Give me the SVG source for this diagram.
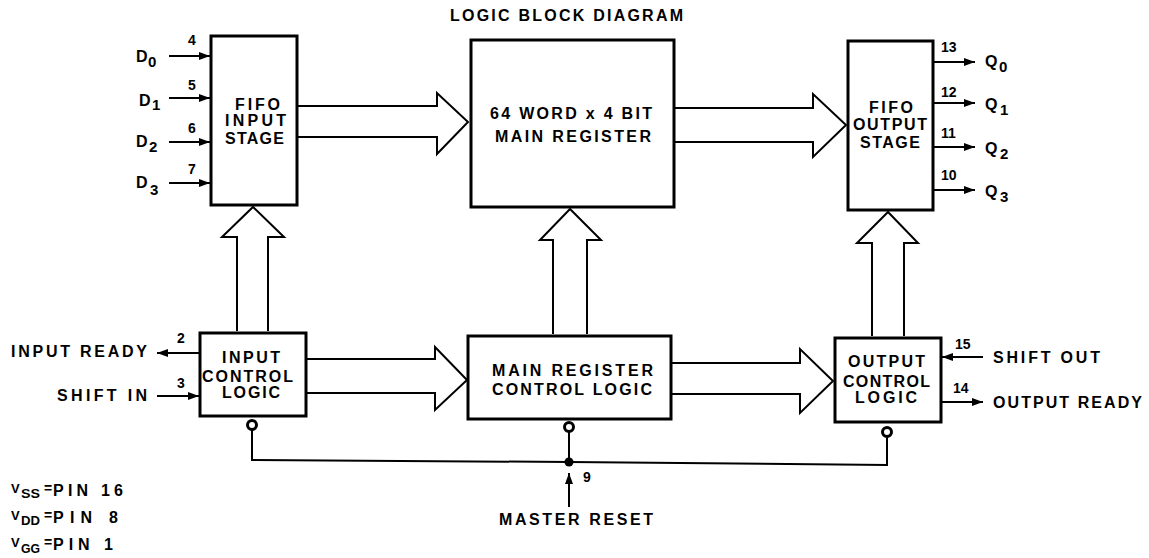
<svg xmlns="http://www.w3.org/2000/svg" width="1149" height="558" viewBox="0 0 1149 558">
<style>
.box{fill:#fff;stroke:#000;stroke-width:3}
.bus{fill:#fff;stroke:#000;stroke-width:2;stroke-linejoin:miter}
.pin{stroke:#000;stroke-width:2;fill:none}
.bub{fill:#fff;stroke:#000;stroke-width:3}
text{font-family:"Liberation Sans",Arial,sans-serif;font-weight:bold;fill:#000}
.lb{font-size:16px}
.sm{font-size:14px}
.sub{font-size:15px}
.vs{font-size:13px}
.vsub{font-size:13px}
</style>
<defs>
<marker id="ah" markerUnits="userSpaceOnUse" markerWidth="11" markerHeight="8" refX="11" refY="4" orient="auto">
<path d="M0,0 L11,4 L0,8 z" fill="#000"/>
</marker>
</defs>
<rect width="1149" height="558" fill="#fff"/>
<text class="lb" x="450" y="21" textLength="233" lengthAdjust="spacing" font-size="15">LOGIC BLOCK DIAGRAM</text>

<g id="connectors">
<path class="bus" d="M297,106 H437 V93 L468,122 L437,154 V137 H297"/>
<path class="bus" d="M674,108 H813 V94 L846,125 L813,157 V142 H674"/>
<path class="bus" d="M306,359 H435 V347 L467,380 L435,410 V393 H306"/>
<path class="bus" d="M671,363 H800 V349 L833,381 L800,413 V394 H671"/>
<path class="bus" d="M237,331 V237 H222 L253,207 L284,237 H268 V331"/>
<path class="bus" d="M553,334 V240 H540 L570,209 L601,240 H587 V334"/>
<path class="bus" d="M872,336 V243 H857 L888,212 L918,243 H904 V336"/>
<line class="pin" x1="169" y1="56" x2="210" y2="56" marker-end="url(#ah)"/>
<line class="pin" x1="169" y1="98" x2="210" y2="98" marker-end="url(#ah)"/>
<line class="pin" x1="169" y1="142" x2="210" y2="142" marker-end="url(#ah)"/>
<line class="pin" x1="169" y1="183" x2="210" y2="183" marker-end="url(#ah)"/>
<line class="pin" x1="934" y1="62" x2="975" y2="62" marker-end="url(#ah)"/>
<line class="pin" x1="934" y1="103" x2="975" y2="103" marker-end="url(#ah)"/>
<line class="pin" x1="934" y1="147" x2="975" y2="147" marker-end="url(#ah)"/>
<line class="pin" x1="934" y1="190" x2="975" y2="190" marker-end="url(#ah)"/>
<line class="pin" x1="199" y1="353" x2="157" y2="353" marker-end="url(#ah)"/>
<line class="pin" x1="157" y1="396" x2="199" y2="396" marker-end="url(#ah)"/>
<line class="pin" x1="983" y1="357" x2="942" y2="357" marker-end="url(#ah)"/>
<line class="pin" x1="942" y1="402" x2="983" y2="402" marker-end="url(#ah)"/>
<path class="pin" d="M252,430 V460 L569,462 L887,465 V437"/>
<line class="pin" x1="569" y1="432" x2="569" y2="462"/>
<circle cx="569" cy="462" r="4.5" fill="#000"/>
<line class="pin" x1="569" y1="507" x2="569" y2="473" marker-end="url(#ah)"/>
<circle class="bub" cx="252" cy="425" r="4.5"/>
<circle class="bub" cx="569" cy="427" r="4.5"/>
<circle class="bub" cx="887" cy="432" r="4.5"/>
</g>

<g id="pin-labels">
<text class="sm" x="188" y="45">4</text>
<text class="sm" x="188" y="90">5</text>
<text class="sm" x="188" y="133">6</text>
<text class="sm" x="188" y="174">7</text>
<text class="lb" x="136" y="62">D</text><text class="sub" x="148" y="67">0</text>
<text class="lb" x="139" y="106">D</text><text class="sub" x="152" y="110">1</text>
<text class="lb" x="136" y="147">D</text><text class="sub" x="149" y="152">2</text>
<text class="lb" x="136" y="188">D</text><text class="sub" x="150" y="195">3</text>
<text class="sm" x="941" y="52">13</text>
<text class="sm" x="941" y="97">12</text>
<text class="sm" x="941" y="138">11</text>
<text class="sm" x="941" y="180">10</text>
<text class="lb" x="985" y="67">Q</text><text class="sub" x="999" y="72">0</text>
<text class="lb" x="985" y="110">Q</text><text class="sub" x="1000" y="115">1</text>
<text class="lb" x="985" y="154">Q</text><text class="sub" x="1000" y="159">2</text>
<text class="lb" x="985" y="197">Q</text><text class="sub" x="1000" y="202">3</text>
<text class="sm" x="177" y="343">2</text>
<text class="sm" x="177" y="388">3</text>
<text class="lb" x="11" y="357" textLength="136" lengthAdjust="spacing">INPUT READY</text>
<text class="lb" x="57" y="401" textLength="90" lengthAdjust="spacing">SHIFT IN</text>
<text class="sm" x="955" y="349">15</text>
<text class="sm" x="953" y="393">14</text>
<text class="lb" x="993" y="363" textLength="107" lengthAdjust="spacing">SHIFT OUT</text>
<text class="lb" x="993" y="408" textLength="149" lengthAdjust="spacing">OUTPUT READY</text>
<text class="sm" x="583" y="482">9</text>
<text class="lb" x="499" y="525" textLength="154" lengthAdjust="spacing">MASTER RESET</text>
</g>

<g id="fifo-input-stage">
<rect class="box" x="211" y="36" width="86" height="169"/>
<text class="lb" x="235" y="110" textLength="45" lengthAdjust="spacing">FIFO</text>
<text class="lb" x="225" y="126" textLength="61" lengthAdjust="spacing">INPUT</text>
<text class="lb" x="225" y="144" textLength="59" lengthAdjust="spacing">STAGE</text>
</g>

<g id="main-register">
<rect class="box" x="471" y="40" width="203" height="167"/>
<text class="lb" x="490" y="119" textLength="162" lengthAdjust="spacing">64 WORD x 4 BIT</text>
<text class="lb" x="495" y="142" textLength="156" lengthAdjust="spacing">MAIN REGISTER</text>
</g>

<g id="fifo-output-stage">
<rect class="box" x="848" y="41" width="85" height="169"/>
<text class="lb" x="869" y="113" textLength="44" lengthAdjust="spacing">FIFO</text>
<text class="lb" x="853" y="130" textLength="74" lengthAdjust="spacing">OUTPUT</text>
<text class="lb" x="860" y="148" textLength="60" lengthAdjust="spacing">STAGE</text>
</g>

<g id="input-control-logic">
<rect class="box" x="200" y="333" width="106" height="83"/>
<text class="lb" x="222" y="363" textLength="58" lengthAdjust="spacing">INPUT</text>
<text class="lb" x="202" y="382" textLength="91" lengthAdjust="spacing">CONTROL</text>
<text class="lb" x="222" y="398" textLength="58" lengthAdjust="spacing">LOGIC</text>
</g>

<g id="main-register-control-logic">
<rect class="box" x="468" y="336" width="203" height="83"/>
<text class="lb" x="492" y="376" textLength="161" lengthAdjust="spacing">MAIN REGISTER</text>
<text class="lb" x="492" y="395" textLength="160" lengthAdjust="spacing">CONTROL LOGIC</text>
</g>

<g id="output-control-logic">
<rect class="box" x="835" y="338" width="106" height="84"/>
<text class="lb" x="848" y="367" textLength="77" lengthAdjust="spacing">OUTPUT</text>
<text class="lb" x="843" y="387" textLength="87" lengthAdjust="spacing">CONTROL</text>
<text class="lb" x="855" y="403" textLength="62" lengthAdjust="spacing">LOGIC</text>
</g>

<g id="supply-notes">
<text class="vs" x="11" y="493">V</text><text class="vsub" x="21" y="498" textLength="19" lengthAdjust="spacingAndGlyphs">SS</text><text class="sm" x="44" y="493">=</text><text class="lb" x="53" y="496" textLength="70" lengthAdjust="spacing">PIN 16</text>
<text class="vs" x="11" y="520">V</text><text class="vsub" x="21" y="525" textLength="19" lengthAdjust="spacingAndGlyphs">DD</text><text class="sm" x="44" y="520">=</text><text class="lb" x="53" y="523" textLength="65" lengthAdjust="spacing">PIN 8</text>
<text class="vs" x="11" y="547">V</text><text class="vsub" x="21" y="553" textLength="19" lengthAdjust="spacingAndGlyphs">GG</text><text class="sm" x="44" y="547">=</text><text class="lb" x="53" y="550" textLength="60" lengthAdjust="spacing">PIN 1</text>
</g>
</svg>
